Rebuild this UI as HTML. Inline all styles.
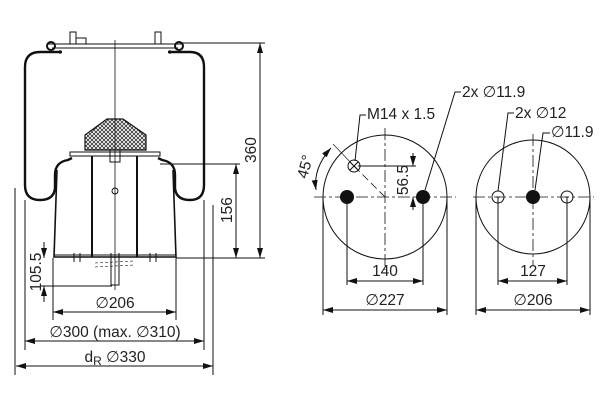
<!DOCTYPE html>
<html><head><style>html,body{margin:0;padding:0;background:#fff}svg{display:block}text{font-family:"Liberation Sans",sans-serif;fill:#222}</style></head><body>
<svg width="600" height="400" viewBox="0 0 600 400" xmlns="http://www.w3.org/2000/svg">
<defs>
<pattern id="h" width="4" height="4" patternUnits="userSpaceOnUse"><rect width="4" height="4" fill="#fff"/><path d="M0 4L4 0M0 0L4 4" stroke="#333" stroke-width="0.8"/></pattern>
<marker id="a" viewBox="0 0 10 6" refX="10" refY="3" markerWidth="10" markerHeight="6" orient="auto-start-reverse" markerUnits="userSpaceOnUse"><path d="M0 0L10 3L0 6z" fill="#111"/></marker>
</defs>
<g stroke="#111" fill="none" stroke-width="1">
<path d="M48 44 H182 M52 48 H178"/>
<circle cx="51" cy="46" r="4" stroke-width="2"/><circle cx="179" cy="46" r="4" stroke-width="2"/>
<path d="M70 44 V32 H76 V44 M76 38 H86 V44 M155 44 V32 H161 V44"/>
<path d="M60 50 V54 M170 50 V54"/>
<path d="M62 52 H40 Q25 52 25 67 V185 Q25 200 40 200 Q54 200 55 188 V175 Q55 162 68 160 L72 158" stroke-width="2.4"/>
<path d="M168 52 H190 Q204 52 204 67 V185 Q204 200 190 200 Q176 200 175 188 V175 Q175 162 162 160 L158 158" stroke-width="2.4"/>
<path d="M70 152 H160 V156 H70 Z"/>
<path d="M57 170 L54 257 H176 L173 170" stroke-width="1.6"/>
<path d="M92 156 V257 M137 156 V257" stroke-width="2"/>
<path d="M54 255 H176"/>
<path d="M110 150 V162 H120 V150"/>
<circle cx="115" cy="191" r="3"/>
<path d="M74 253 V262 M80 253 V262 M150 253 V262 M156 253 V262 M111 253 V285 H119 V253"/>
<path d="M107 119 H123 L146 135 V150 H85 V135 Z" fill="url(#h)" stroke-width="1.2"/>
<path d="M115 40 V290" stroke-width="0.8"/>
<path d="M95 263 L135 261 M95 267 L135 265" stroke-width="0.6" stroke-dasharray="3 2"/>
<path d="M182 43 H265 M176 258 H265 M160 164 H240"/>
<path d="M260 43 V258" marker-start="url(#a)" marker-end="url(#a)"/>
<path d="M236 164 V258" marker-start="url(#a)" marker-end="url(#a)"/>
<path d="M15 188 V375 M213 205 V375 M25 200 V350 M204 200 V350 M53 258 V320 M176 258 V320"/>
<path d="M16 366 H213" marker-start="url(#a)" marker-end="url(#a)"/>
<path d="M25 341 H204" marker-start="url(#a)" marker-end="url(#a)"/>
<path d="M53 312 H176" marker-start="url(#a)" marker-end="url(#a)"/>
<path d="M40 286 H112"/>
<path d="M44 242 V258" marker-end="url(#a)"/>
<path d="M44 302 V286" marker-end="url(#a)"/>
<circle cx="385" cy="197" r="62"/>
<path d="M314 197 H456" stroke-dasharray="12 3 3 3" stroke-width="0.8"/>
<path d="M385 128 V270" stroke-dasharray="12 3 3 3" stroke-width="0.8"/>
<path d="M354 166 L385 197" stroke-dasharray="8 4" stroke-width="0.8"/>
<circle cx="354" cy="166" r="6"/><path d="M350 162 L358 170 M358 162 L350 170"/>
<path d="M358 166 H416"/>
<path d="M413 153 V166" marker-end="url(#a)"/>
<path d="M413 210 V197" marker-end="url(#a)"/>
<path d="M355 161 L360 115 H366"/>
<path d="M425 190 L455 92 H461"/>
<path d="M331 148 Q313 168 316 190" marker-start="url(#a)" marker-end="url(#a)"/>
<path d="M333 144 L354 166" stroke-width="0.6"/>
<path d="M347 197 V285 M423 197 V285 M323 197 V315 M447 197 V315"/>
<path d="M347 281 H423" marker-start="url(#a)" marker-end="url(#a)"/>
<path d="M323 310 H447" marker-start="url(#a)" marker-end="url(#a)"/>
<circle cx="533" cy="197" r="57"/>
<path d="M473 197 H594" stroke-dasharray="12 3 3 3" stroke-width="0.8"/>
<path d="M533 134 V265" stroke-dasharray="12 3 3 3" stroke-width="0.8"/>
<circle cx="498" cy="197" r="6"/><circle cx="567" cy="197" r="6"/>
<path d="M498 197 V204 M567 197 V204 M496 197 H500 M565 197 H569"/>
<path d="M498 191 L508 113 H514"/>
<path d="M535 190 L543 133 H550"/>
<path d="M498 197 V285 M567 197 V285 M476 197 V315 M590 197 V315"/>
<path d="M498 281 H567" marker-start="url(#a)" marker-end="url(#a)"/>
<path d="M476 310 H590" marker-start="url(#a)" marker-end="url(#a)"/>
</g>
<g fill="#111">
<circle cx="347" cy="197" r="7"/><circle cx="423" cy="197" r="7"/><circle cx="533" cy="197" r="7"/>
</g>
<g font-size="15.5">
<text x="256" y="150" transform="rotate(-90 256 150)" text-anchor="middle">360</text>
<text x="232" y="210" transform="rotate(-90 232 210)" text-anchor="middle">156</text>
<text x="41" y="272" transform="rotate(-90 41 272)" text-anchor="middle">105.5</text>
<text x="115" y="308" text-anchor="middle">∅206</text>
<text x="115" y="337" text-anchor="middle">∅300 (max. ∅310)</text>
<text x="115" y="362" text-anchor="middle">d<tspan font-size="12" dy="3">R</tspan><tspan dy="-3"> ∅330</tspan></text>
<text x="367" y="119">M14 x 1.5</text>
<text x="462" y="97">2x ∅11.9</text>
<text x="515" y="118">2x ∅12</text>
<text x="551" y="137">∅11.9</text>
<text x="408" y="180" transform="rotate(-90 408 180)" text-anchor="middle">56.5</text>
<text x="310" y="168" transform="rotate(-75 310 168)" text-anchor="middle">45°</text>
<text x="385" y="276" text-anchor="middle">140</text>
<text x="385" y="305" text-anchor="middle">∅227</text>
<text x="533" y="276" text-anchor="middle">127</text>
<text x="533" y="305" text-anchor="middle">∅206</text>
</g>
</svg>
</body></html>
